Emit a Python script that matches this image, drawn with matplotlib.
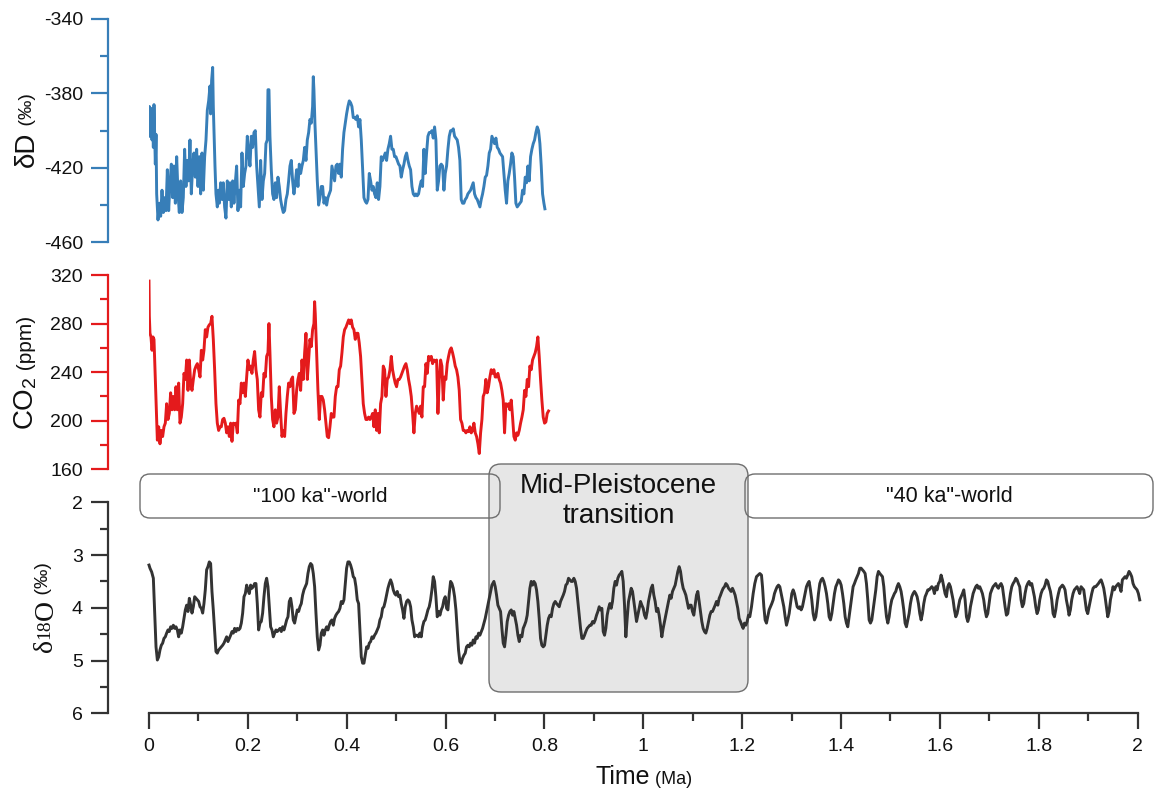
import matplotlib
matplotlib.use("Agg")
import matplotlib.pyplot as plt
from matplotlib.patches import FancyBboxPatch
from matplotlib.transforms import Affine2D
from matplotlib.ticker import MultipleLocator, FixedLocator

W, H, DPI = 1154, 792, 100

# ---------------- data (ages in ka) ----------------
dD_age = [0.0, 0.7, 2.0, 4.0, 6.1, 7.4, 8.8, 10.1, 11.5, 12.8, 14.2, 15.5, 18.2, 20.9, 23.6, 26.3,
          29.0, 31.7, 34.4, 37.1, 39.8, 42.5, 45.2, 47.9, 50.6, 53.3, 56.0, 58.7, 61.3, 64.0, 66.7,
          69.4, 72.1, 74.8, 77.5, 80.2, 82.9, 85.6, 88.3, 91.0, 93.7, 96.4, 99.1, 101.8, 104.5,
          107.2, 109.9, 112.6, 115.3, 118.0, 120.7, 123.4, 124.7, 126.7, 128.8, 130.1, 131.5,
          133.5, 135.5, 138.2, 140.2, 142.3, 145.0, 147.7, 150.3, 153.0, 155.7, 158.4, 161.1,
          163.8, 166.5, 169.2, 171.9, 174.6, 177.3, 180.0, 182.7, 185.4, 188.1, 190.8, 193.5,
          196.2, 198.9, 201.6, 204.3, 207.0, 209.7, 212.4, 215.1, 217.8, 220.5, 223.2, 225.9,
          228.6, 231.3, 234.0, 236.6, 239.3, 240.7, 242.7, 244.7, 247.4, 250.1, 252.8, 255.5,
          258.2, 260.9, 263.6, 266.3, 269.0, 271.7, 274.4, 277.1, 279.8, 282.5, 285.2, 287.9,
          290.6, 293.3, 296.0, 298.7, 301.4, 304.1, 306.8, 309.5, 312.2, 314.9, 317.6, 320.3,
          323.0, 325.6, 328.3, 331.0, 332.4, 333.7, 335.7, 337.8, 340.5, 343.2, 345.9, 348.6,
          351.3, 354.0, 356.7, 359.4, 362.0, 364.7, 367.4, 370.1, 372.8, 375.5, 378.2, 380.9,
          383.6, 386.3, 389.0, 391.7, 394.4, 397.1, 399.8, 402.5, 405.2, 407.9, 410.6, 413.3,
          416.0, 418.7, 421.4, 424.1, 426.8, 429.5, 432.2, 434.9, 437.6, 440.3, 443.0, 445.7,
          448.4, 451.1, 453.7, 456.4, 459.1, 461.8, 464.5, 467.2, 469.9, 472.6, 475.3, 478.0,
          480.7, 483.4, 486.1, 488.8, 491.5, 494.2, 496.9, 499.6, 502.3, 505.0, 507.7, 510.4,
          513.1, 515.8, 518.5, 521.2, 523.9, 526.6, 529.3, 532.0, 534.7, 537.4, 540.0, 542.7,
          545.4, 548.1, 550.8, 553.5, 556.2, 558.9, 561.6, 564.3, 567.0, 569.7, 572.4, 575.1,
          577.8, 580.5, 583.2, 585.9, 588.6, 591.3, 594.0, 596.7, 599.4, 602.1, 604.8, 607.5,
          610.2, 612.9, 615.6, 618.3, 621.0, 623.6, 626.3, 629.0, 631.7, 634.4, 637.1, 639.8,
          642.5, 645.2, 647.9, 650.6, 653.3, 656.0, 658.7, 661.4, 664.1, 666.8, 669.5, 672.2,
          674.9, 677.6, 680.3, 683.0, 685.7, 688.4, 691.1, 693.8, 696.5, 699.2, 701.9, 704.6,
          707.3, 710.0, 712.7, 715.4, 718.0, 720.7, 723.4, 726.1, 728.8, 731.5, 734.2, 736.9,
          739.6, 742.3, 745.0, 747.7, 750.4, 753.1, 755.8, 758.5, 761.2, 763.9, 766.6, 769.3,
          772.0, 774.7, 777.4, 780.1, 782.8, 785.5, 788.2, 790.9, 793.6, 796.3, 799.0, 801.0]
dD_val = [-403, -387, -393, -388, -405, -390, -409, -386, -403, -418, -402, -434, -448, -439, -446,
          -432, -444, -436, -443, -421, -443, -428, -418, -436, -419, -439, -414, -434, -444, -427,
          -444, -436, -410, -430, -416, -427, -405, -434, -419, -412, -425, -410, -430, -414, -434,
          -412, -432, -414, -405, -389, -384, -376, -391, -373, -366, -387, -401, -419, -434, -441,
          -432, -439, -428, -437, -428, -441, -447, -427, -437, -428, -441, -427, -439, -428, -419,
          -443, -432, -441, -412, -430, -423, -419, -403, -412, -419, -403, -409, -401, -400, -419,
          -430, -441, -416, -437, -427, -423, -407, -405, -378, -378, -403, -421, -434, -437, -428,
          -436, -425, -430, -437, -441, -444, -443, -437, -434, -427, -419, -416, -427, -434, -428,
          -421, -430, -418, -423, -419, -416, -409, -416, -405, -401, -394, -396, -387, -371, -378,
          -396, -410, -427, -440, -436, -430, -430, -439, -436, -440, -436, -434, -432, -419, -423,
          -427, -419, -418, -423, -418, -425, -410, -401, -396, -391, -387, -384, -385, -387, -393,
          -393, -394, -392, -398, -394, -405, -421, -436, -438, -439, -437, -423, -427, -432, -430,
          -434, -436, -428, -437, -430, -414, -416, -414, -412, -416, -410, -407, -403, -410, -410,
          -414, -414, -416, -418, -419, -425, -421, -418, -414, -412, -416, -419, -421, -430, -434,
          -435, -434, -435, -434, -430, -427, -430, -410, -423, -412, -403, -401, -401, -400, -404,
          -398, -405, -432, -427, -419, -418, -419, -432, -423, -419, -410, -403, -400, -400, -399,
          -403, -404, -405, -409, -416, -437, -439, -439, -437, -436, -434, -433, -432, -430, -428,
          -434, -436, -437, -439, -441, -437, -434, -430, -425, -424, -419, -412, -410, -403, -405,
          -407, -404, -409, -410, -412, -413, -414, -423, -432, -439, -427, -423, -418, -412, -414,
          -425, -439, -441, -440, -439, -438, -432, -434, -425, -428, -419, -427, -414, -410, -407,
          -405, -401, -398, -400, -407, -419, -434, -439, -442]

co2_age = [0.0, 0.7, 2.0, 4.0, 6.1, 8.1, 10.1, 12.1, 14.2, 16.9, 19.6, 22.2, 24.9, 27.6, 30.3,
           33.0, 35.7, 38.4, 41.1, 43.8, 46.5, 49.2, 51.9, 54.6, 57.3, 60.0, 62.7, 65.4, 68.1,
           70.8, 73.5, 76.2, 78.9, 81.6, 84.3, 87.0, 89.7, 92.4, 95.1, 97.8, 100.5, 103.2, 105.9,
           108.6, 111.2, 113.9, 116.6, 119.3, 122.0, 124.7, 127.4, 130.1, 132.8, 135.5, 138.2,
           140.9, 143.6, 146.3, 149.0, 151.7, 154.4, 157.1, 159.8, 162.5, 165.2, 167.9, 170.6,
           173.3, 176.0, 178.7, 181.4, 184.1, 186.8, 189.5, 192.2, 194.9, 197.6, 200.2, 202.9,
           205.6, 208.3, 211.0, 213.7, 216.4, 219.1, 221.8, 224.5, 227.2, 229.9, 232.6, 235.3,
           238.0, 240.7, 242.7, 244.7, 247.4, 250.1, 252.8, 255.5, 258.2, 260.9, 263.6, 266.3,
           269.0, 271.7, 274.4, 277.1, 279.8, 282.5, 285.2, 287.9, 290.6, 293.3, 296.0, 298.7,
           301.4, 304.1, 306.8, 309.5, 312.2, 314.9, 317.6, 320.3, 323.0, 325.6, 328.3, 331.0,
           333.7, 335.1, 336.4, 339.1, 341.8, 344.5, 347.2, 349.9, 352.6, 355.3, 358.0, 360.7,
           363.4, 366.1, 368.8, 371.5, 374.2, 376.9, 379.6, 382.3, 385.0, 387.7, 390.4, 393.1,
           395.8, 398.5, 401.2, 403.9, 406.5, 409.2, 411.9, 414.6, 417.3, 420.0, 422.7, 425.4,
           428.1, 430.8, 433.5, 436.2, 438.9, 441.6, 444.3, 447.0, 449.7, 452.4, 455.1, 457.8,
           460.5, 463.2, 465.9, 468.6, 471.3, 474.0, 476.7, 479.4, 482.1, 484.8, 487.5, 490.2,
           492.8, 495.5, 498.2, 500.9, 503.6, 506.3, 509.0, 511.7, 514.4, 517.1, 519.8, 522.5,
           525.2, 527.9, 530.6, 533.3, 536.0, 538.7, 541.4, 544.1, 546.8, 549.5, 552.2, 554.9,
           557.6, 560.3, 563.0, 565.7, 568.4, 571.1, 573.8, 576.5, 579.2, 581.9, 584.6, 587.3,
           590.0, 592.6, 595.3, 598.0, 600.7, 603.4, 606.1, 608.8, 611.5, 614.2, 616.9, 619.6,
           622.3, 625.0, 627.7, 630.4, 633.1, 635.8, 638.5, 641.2, 643.9, 646.6, 649.3, 652.0,
           654.7, 657.4, 660.1, 662.8, 665.5, 668.2, 670.9, 673.6, 676.2, 678.9, 681.6, 684.3,
           687.0, 689.7, 692.4, 695.1, 697.8, 700.5, 703.2, 705.9, 708.6, 711.3, 714.0, 716.7,
           719.4, 722.1, 724.8, 727.5, 730.2, 732.9, 735.6, 738.3, 741.0, 743.7, 746.4, 749.1,
           751.8, 754.5, 757.2, 759.9, 762.6, 765.3, 768.0, 770.6, 773.3, 776.0, 778.7, 781.4,
           784.1, 786.8, 789.5, 792.2, 794.9, 797.6, 800.3, 803.0, 805.7, 808.4]
co2_val = [315, 286, 272, 269, 258, 269, 267, 242, 214, 184, 195, 181, 192, 187, 195, 198, 214,
           201, 206, 223, 209, 220, 209, 228, 209, 231, 198, 203, 214, 239, 234, 250, 225, 250,
           231, 225, 234, 242, 245, 247, 242, 236, 258, 250, 258, 275, 269, 277, 279, 280, 286,
           267, 242, 214, 198, 192, 195, 195, 201, 202, 198, 190, 195, 187, 198, 183, 198, 197,
           198, 190, 217, 214, 231, 223, 231, 220, 236, 250, 242, 245, 239, 250, 257, 242, 234,
           209, 203, 223, 220, 239, 236, 253, 256, 280, 256, 220, 201, 195, 209, 198, 203, 228,
           206, 187, 192, 187, 206, 220, 231, 228, 234, 236, 206, 209, 225, 234, 239, 225, 250,
           234, 256, 272, 234, 250, 267, 261, 275, 280, 298, 288, 256, 225, 201, 220, 220, 217,
           209, 198, 187, 186, 195, 206, 203, 203, 220, 228, 228, 242, 245, 256, 269, 275, 277,
           280, 283, 280, 283, 277, 275, 267, 272, 272, 264, 253, 234, 214, 206, 201, 201, 203,
           201, 203, 206, 195, 209, 192, 206, 190, 214, 220, 245, 242, 220, 234, 236, 242, 253,
           242, 236, 231, 228, 234, 234, 236, 239, 242, 245, 247, 242, 234, 228, 220, 206, 190,
           206, 212, 209, 206, 212, 203, 228, 228, 247, 239, 253, 250, 253, 247, 250, 249, 250,
           206, 234, 250, 245, 217, 236, 234, 247, 253, 258, 260, 256, 251, 245, 242, 236, 225,
           201, 198, 192, 192, 190, 192, 191, 195, 190, 192, 198, 190, 187, 181, 173, 190, 201,
           220, 223, 234, 223, 228, 236, 242, 239, 242, 236, 236, 239, 234, 231, 225, 217, 190,
           214, 212, 214, 209, 217, 203, 187, 184, 190, 188, 192, 198, 203, 209, 225, 220, 234,
           228, 245, 242, 250, 253, 256, 261, 269, 253, 234, 217, 203, 198, 199, 206, 208]

d18O_age = [0.0, 2.0, 5.4, 8.8, 11.5, 14.2, 16.9, 19.6, 22.2, 24.9, 27.6, 30.3, 33.0, 35.7, 38.4,
            41.1, 43.8, 46.5, 49.2, 51.9, 54.6, 57.3, 60.0, 62.7, 65.4, 68.1, 70.8, 73.5, 76.2,
            78.9, 81.6, 84.3, 87.0, 89.7, 92.4, 95.1, 97.8, 100.5, 103.2, 105.9, 108.6, 111.2,
            113.9, 116.6, 119.3, 122.0, 124.7, 127.4, 130.1, 132.8, 135.5, 138.2, 140.9, 143.6,
            146.3, 149.0, 151.7, 154.4, 157.1, 159.8, 162.5, 165.2, 167.9, 170.6, 173.3, 176.0,
            178.7, 181.4, 184.1, 186.8, 189.5, 192.2, 194.9, 197.6, 200.2, 202.9, 205.6, 208.3,
            211.0, 213.7, 216.4, 219.1, 221.8, 224.5, 227.2, 229.9, 232.6, 235.3, 238.0, 240.7,
            243.4, 246.1, 248.8, 251.5, 254.2, 256.9, 259.6, 262.3, 265.0, 267.7, 270.4, 273.1,
            275.8, 278.5, 281.2, 283.9, 286.6, 289.2, 291.9, 294.6, 297.3, 300.0, 302.7, 305.4,
            308.1, 310.8, 313.5, 316.2, 318.9, 321.6, 324.3, 327.0, 329.7, 332.4, 335.1, 337.8,
            340.5, 343.2, 345.9, 348.6, 351.3, 354.0, 356.7, 359.4, 362.0, 364.7, 367.4, 370.1,
            372.8, 375.5, 378.2, 380.9, 383.6, 386.3, 389.0, 391.7, 394.4, 397.1, 399.8, 402.5,
            405.2, 407.9, 410.6, 413.3, 416.0, 418.7, 421.4, 424.1, 426.8, 429.5, 432.2, 434.9,
            437.6, 440.3, 443.0, 445.7, 448.4, 451.1, 453.7, 456.4, 459.1, 461.8, 464.5, 467.2,
            469.9, 472.6, 475.3, 478.0, 480.7, 483.4, 486.1, 488.8, 491.5, 494.2, 496.9, 499.6,
            502.3, 505.0, 507.7, 510.4, 513.1, 515.8, 518.5, 521.2, 523.9, 526.6, 529.3, 532.0,
            534.7, 537.4, 540.0, 542.7, 545.4, 548.1, 550.8, 553.5, 556.2, 558.9, 561.6, 564.3,
            567.0, 569.7, 572.4, 575.1, 577.8, 580.5, 583.2, 585.9, 588.6, 591.3, 594.0, 596.7,
            599.4, 602.1, 604.8, 607.5, 610.2, 612.9, 615.6, 618.3, 621.0, 623.6, 626.3, 629.0,
            631.7, 634.4, 637.1, 639.8, 642.5, 645.2, 647.9, 650.6, 653.3, 656.0, 658.7, 661.4,
            664.1, 666.8, 669.5, 674.9, 680.3, 685.7, 689.7, 693.8, 697.8, 700.5, 703.2, 705.9,
            708.6, 711.3, 714.0, 716.7, 719.4, 722.1, 724.8, 727.5, 730.2, 732.9, 735.6, 738.3,
            741.0, 743.7, 746.4, 749.1, 751.8, 754.5, 757.1, 759.8, 762.5, 765.2, 767.9, 770.6,
            773.3, 776.0, 778.7, 781.4, 784.1, 786.8, 789.5, 792.2, 794.9, 797.6, 800.3, 803.0,
            805.7, 808.4, 811.1, 813.8, 816.5, 819.2, 821.9, 824.6, 827.3, 830.0, 832.7, 835.4,
            838.1, 840.7, 843.4, 846.1, 848.8, 851.5, 854.2, 856.9, 859.6, 862.3, 865.0, 867.7,
            870.4, 873.1, 875.8, 878.5, 881.2, 883.9, 886.6, 889.3, 892.0, 894.7, 897.4, 900.1,
            902.8, 905.5, 908.2, 910.9, 913.6, 916.3, 919.0, 921.7, 924.3, 927.0, 929.7, 932.4,
            935.1, 937.8, 940.5, 943.2, 945.9, 948.6, 951.3, 954.0, 956.7, 959.4, 962.1, 964.8,
            967.5, 970.2, 972.9, 975.6, 978.3, 981.0, 983.7, 986.4, 989.1, 991.8, 994.5, 997.2,
            999.9, 1002.6, 1005.3, 1008.0, 1010.6, 1013.3, 1016.0, 1018.7, 1021.4, 1024.1,
            1026.8, 1029.5, 1032.2, 1034.9, 1037.6, 1040.3, 1043.0, 1045.7, 1048.4, 1051.1,
            1053.8, 1056.5, 1059.2, 1061.9, 1064.6, 1067.3, 1070.0, 1072.7, 1075.4, 1078.1,
            1080.8, 1083.5, 1086.2, 1088.9, 1091.6, 1094.2, 1096.9, 1099.6, 1102.3, 1105.0,
            1107.7, 1110.4, 1113.1, 1115.8, 1118.5, 1121.2, 1123.9, 1126.6, 1129.3, 1132.0,
            1134.7, 1137.4, 1140.1, 1142.8, 1145.5, 1148.2, 1150.9, 1153.6, 1156.3, 1159.0,
            1161.7, 1164.4, 1167.1, 1169.8, 1172.5, 1175.2, 1177.8, 1180.5, 1183.2, 1185.9,
            1188.6, 1191.3, 1194.0, 1196.7, 1199.4, 1202.1, 1204.8, 1207.5, 1210.2, 1212.9,
            1215.6, 1219.0, 1222.4, 1225.7, 1229.1, 1232.5, 1235.9, 1239.2, 1241.3, 1244.0,
            1246.6, 1249.3, 1252.0, 1254.7, 1257.4, 1260.1, 1262.8, 1265.5, 1268.2, 1270.9,
            1273.6, 1276.3, 1279.0, 1281.7, 1284.4, 1287.1, 1289.8, 1292.5, 1295.2, 1297.9,
            1300.6, 1303.3, 1306.0, 1308.7, 1311.4, 1314.1, 1316.8, 1319.5, 1322.1, 1324.8,
            1327.5, 1330.2, 1332.9, 1335.6, 1338.3, 1341.0, 1343.7, 1346.4, 1349.1, 1351.8,
            1354.5, 1357.2, 1359.9, 1362.6, 1365.3, 1368.0, 1370.7, 1373.4, 1376.1, 1378.8,
            1381.5, 1384.2, 1386.9, 1389.6, 1392.3, 1395.0, 1397.7, 1400.4, 1403.1, 1405.8,
            1408.5, 1411.1, 1413.8, 1416.5, 1419.2, 1421.9, 1424.6, 1427.3, 1430.0, 1432.7,
            1435.4, 1438.1, 1440.8, 1443.5, 1446.2, 1448.9, 1451.6, 1454.3, 1457.0, 1459.7,
            1462.4, 1465.1, 1467.8, 1470.5, 1473.2, 1475.9, 1478.6, 1481.3, 1484.0, 1486.7,
            1489.4, 1492.1, 1494.8, 1497.5, 1500.1, 1502.8, 1505.5, 1508.2, 1510.9, 1513.6,
            1516.3, 1519.0, 1521.7, 1524.4, 1527.1, 1529.8, 1532.5, 1535.2, 1537.9, 1540.6,
            1543.3, 1546.0, 1548.7, 1551.4, 1554.1, 1556.8, 1559.5, 1562.2, 1564.9, 1567.6,
            1570.3, 1573.0, 1575.7, 1578.4, 1581.1, 1583.8, 1586.5, 1589.1, 1591.8, 1594.5,
            1597.2, 1599.9, 1602.6, 1605.3, 1608.0, 1610.7, 1613.4, 1616.1, 1618.8, 1621.5,
            1624.2, 1626.9, 1629.6, 1632.3, 1635.0, 1637.7, 1640.4, 1643.1, 1645.8, 1648.5,
            1651.2, 1653.9, 1656.6, 1659.3, 1662.0, 1664.7, 1667.4, 1670.1, 1672.8, 1675.4,
            1678.1, 1680.8, 1683.5, 1686.2, 1688.9, 1691.6, 1694.3, 1697.0, 1699.7, 1702.4,
            1705.1, 1707.8, 1710.5, 1713.2, 1715.9, 1718.6, 1721.3, 1724.0, 1726.7, 1729.4,
            1732.1, 1734.8, 1737.5, 1740.2, 1742.9, 1745.6, 1748.3, 1751.0, 1753.7, 1756.4,
            1759.0, 1761.7, 1764.4, 1767.1, 1769.8, 1772.5, 1775.2, 1777.9, 1780.6, 1783.3,
            1786.0, 1788.7, 1791.4, 1794.1, 1796.8, 1799.5, 1802.2, 1804.9, 1807.6, 1810.3,
            1813.0, 1815.7, 1818.4, 1821.1, 1823.8, 1826.5, 1829.2, 1831.9, 1834.6, 1837.3,
            1840.0, 1842.7, 1845.4, 1848.1, 1850.7, 1853.4, 1856.1, 1858.8, 1861.5, 1864.2,
            1866.9, 1869.6, 1872.3, 1875.0, 1877.7, 1880.4, 1883.1, 1885.8, 1888.5, 1891.2,
            1893.9, 1896.6, 1899.3, 1902.0, 1904.7, 1907.4, 1910.1, 1912.8, 1915.5, 1918.2,
            1920.9, 1923.6, 1926.3, 1929.0, 1931.7, 1934.4, 1937.1, 1939.8, 1942.5, 1945.2,
            1947.9, 1950.5, 1953.2, 1955.9, 1958.6, 1961.3, 1964.0, 1966.7, 1969.4, 1972.1,
            1974.8, 1977.5, 1980.2, 1982.9, 1985.6, 1988.3, 1991.0, 1993.7, 1996.4, 1999.1,
            2001.8, 2004.5]
d18O_val = [3.19, 3.25, 3.32, 3.44, 4.10, 4.74, 4.99, 4.93, 4.80, 4.71, 4.67, 4.58, 4.55, 4.48,
            4.42, 4.45, 4.36, 4.39, 4.33, 4.39, 4.36, 4.42, 4.55, 4.42, 4.48, 4.36, 4.20, 4.04,
            3.95, 4.07, 3.82, 3.95, 4.10, 3.98, 3.79, 3.82, 3.85, 3.88, 3.98, 4.01, 4.10, 3.92,
            3.66, 3.28, 3.22, 3.13, 3.16, 3.69, 4.04, 4.42, 4.83, 4.86, 4.80, 4.77, 4.74, 4.71,
            4.67, 4.61, 4.55, 4.64, 4.58, 4.52, 4.45, 4.48, 4.39, 4.45, 4.39, 4.42, 4.39, 4.29,
            4.10, 3.79, 3.73, 3.57, 3.66, 3.73, 3.57, 3.63, 3.60, 3.54, 3.54, 3.92, 4.42, 4.29,
            4.26, 4.10, 3.79, 3.54, 3.44, 3.60, 3.98, 4.36, 4.42, 4.55, 4.48, 4.42, 4.45, 4.42,
            4.39, 4.45, 4.36, 4.42, 4.33, 4.23, 4.17, 3.88, 3.82, 3.98, 4.23, 4.29, 4.17, 4.04,
            4.07, 3.98, 3.92, 3.76, 3.66, 3.60, 3.54, 3.35, 3.22, 3.16, 3.19, 3.35, 3.60, 4.10,
            4.55, 4.80, 4.71, 4.48, 4.42, 4.52, 4.42, 4.36, 4.42, 4.33, 4.26, 4.23, 4.33, 4.20,
            4.14, 4.10, 4.07, 4.01, 3.88, 3.92, 3.85, 3.54, 3.25, 3.13, 3.13, 3.19, 3.28, 3.41,
            3.44, 3.60, 3.85, 3.92, 4.42, 4.93, 5.05, 5.05, 4.90, 4.74, 4.77, 4.67, 4.64, 4.55,
            4.58, 4.52, 4.48, 4.42, 4.36, 4.23, 4.17, 4.01, 3.98, 3.88, 3.76, 3.63, 3.54, 3.47,
            3.54, 3.66, 3.73, 3.76, 3.69, 3.79, 3.76, 3.92, 4.04, 4.20, 3.98, 3.88, 3.85, 3.88,
            3.98, 4.23, 4.36, 4.55, 4.52, 4.52, 4.55, 4.48, 4.55, 4.36, 4.26, 4.23, 4.14, 4.04,
            3.98, 3.85, 3.66, 3.41, 3.50, 3.79, 4.17, 4.07, 4.14, 4.04, 3.98, 3.85, 3.79, 4.01,
            4.04, 3.73, 3.50, 3.54, 3.63, 3.79, 4.04, 4.42, 4.80, 5.02, 5.05, 4.96, 4.90, 4.86,
            4.74, 4.71, 4.74, 4.67, 4.71, 4.61, 4.67, 4.55, 4.58, 4.48, 4.52, 4.39, 4.20, 3.95,
            3.76, 3.57, 3.50, 3.60, 3.76, 3.95, 4.01, 4.07, 4.39, 4.67, 4.74, 4.52, 4.26, 4.14,
            4.07, 4.04, 4.14, 4.07, 4.20, 4.33, 4.52, 4.64, 4.52, 4.55, 4.39, 4.33, 4.26, 4.14,
            3.88, 3.63, 3.50, 3.57, 3.50, 3.54, 3.66, 3.88, 4.20, 4.58, 4.71, 4.74, 4.71, 4.52,
            4.33, 4.20, 4.14, 4.17, 4.01, 3.92, 3.88, 3.92, 3.95, 3.98, 3.88, 3.82, 3.76, 3.69,
            3.57, 3.54, 3.44, 3.47, 3.50, 3.50, 3.44, 3.50, 3.63, 3.88, 4.14, 4.39, 4.58, 4.58,
            4.52, 4.45, 4.39, 4.36, 4.33, 4.33, 4.26, 4.29, 4.23, 4.14, 4.07, 3.98, 4.04, 4.01,
            4.45, 4.52, 4.39, 4.14, 4.01, 3.92, 4.01, 3.88, 3.63, 3.50, 3.57, 3.44, 3.38, 3.35,
            3.31, 3.50, 3.95, 4.55, 4.20, 3.88, 3.76, 3.63, 3.69, 3.88, 4.07, 4.26, 4.14, 4.01,
            3.88, 3.95, 4.01, 4.14, 4.20, 4.07, 3.88, 3.76, 3.63, 3.57, 3.76, 3.88, 4.07, 4.01,
            4.14, 4.33, 4.55, 4.39, 4.26, 4.14, 4.01, 3.88, 3.76, 3.82, 3.69, 3.63, 3.57, 3.44,
            3.31, 3.22, 3.31, 3.50, 3.63, 3.69, 3.76, 3.88, 4.01, 3.95, 3.95, 4.07, 4.14, 3.95,
            3.76, 3.69, 3.88, 4.07, 4.26, 4.39, 4.45, 4.48, 4.39, 4.26, 4.14, 4.07, 4.07, 4.01,
            3.95, 3.88, 3.95, 3.82, 3.76, 3.69, 3.63, 3.60, 3.54, 3.57, 3.63, 3.66, 3.69, 3.63,
            3.69, 3.76, 3.88, 4.01, 4.20, 4.26, 4.33, 4.39, 4.29, 4.33, 4.26, 4.14,
            4.17, 3.98, 3.73, 3.54, 3.41, 3.38, 3.35, 3.38, 3.60, 3.98, 4.23, 4.29, 4.17, 4.04,
            3.98, 3.92, 3.85, 3.73, 3.66, 3.60, 3.57, 3.60, 3.73, 3.85, 3.98, 4.17, 4.33, 4.23,
            4.11, 3.92, 3.73, 3.66, 3.73, 3.85, 3.98, 4.01, 3.98, 4.04, 3.98, 3.85, 3.73, 3.60,
            3.54, 3.50, 3.66, 3.85, 4.11, 4.23, 4.17, 3.98, 3.73, 3.54, 3.47, 3.44, 3.50, 3.60,
            3.73, 3.92, 4.17, 4.23, 4.11, 3.92, 3.73, 3.60, 3.54, 3.47, 3.50, 3.57, 3.73, 3.92,
            4.17, 4.29, 4.36, 4.17, 3.98, 3.79, 3.60, 3.54, 3.47, 3.41, 3.35, 3.25, 3.25, 3.28,
            3.31, 3.35, 3.54, 3.85, 4.23, 4.29, 4.23, 4.04, 3.85, 3.66, 3.41, 3.31, 3.35, 3.38,
            3.41, 3.60, 3.92, 4.17, 4.29, 4.17, 3.98, 3.85, 3.79, 3.73, 3.69, 3.60, 3.54, 3.60,
            3.69, 3.85, 4.04, 4.29, 4.36, 4.23, 4.11, 3.92, 3.79, 3.73, 3.69, 3.73, 3.79, 3.92,
            4.11, 4.23, 4.11, 3.92, 3.79, 3.73, 3.66, 3.66, 3.63, 3.60, 3.63, 3.73, 3.60, 3.66,
            3.54, 3.50, 3.38, 3.47, 3.60, 3.73, 3.79, 3.60, 3.54, 3.60, 3.73, 3.85, 4.04, 4.17,
            4.11, 3.98, 3.85, 3.79, 3.73, 3.66, 3.85, 4.17, 4.26, 4.17, 3.98, 3.85, 3.73, 3.66,
            3.60, 3.57, 3.63, 3.60, 3.66, 3.73, 3.85, 4.04, 4.17, 4.11, 3.92, 3.73, 3.66, 3.60,
            3.57, 3.54, 3.60, 3.63, 3.57, 3.54, 3.60, 3.79, 3.98, 4.14, 4.11, 3.92, 3.73, 3.60,
            3.54, 3.50, 3.44, 3.47, 3.54, 3.60, 3.85, 3.98, 3.92, 3.73, 3.60, 3.54, 3.50, 3.57,
            3.54, 3.66, 3.79, 3.98, 4.11, 4.04, 3.85, 3.73, 3.66, 3.63, 3.57, 3.47, 3.50, 3.60,
            3.69, 3.85, 4.11, 4.17, 4.04, 3.85, 3.73, 3.63, 3.60, 3.57, 3.60, 3.66, 3.85, 3.98,
            4.14, 4.04, 3.85, 3.73, 3.66, 3.63, 3.60, 3.66, 3.73, 3.60, 3.63, 3.66, 3.85, 4.04,
            4.11, 3.98, 3.85, 3.73, 3.63, 3.60, 3.60, 3.57, 3.54, 3.50, 3.47, 3.54, 3.63, 3.79,
            3.98, 4.17, 4.07, 3.85, 3.73, 3.60, 3.66, 3.60, 3.57, 3.54, 3.60, 3.69, 3.47, 3.44,
            3.41, 3.44, 3.38, 3.31, 3.35, 3.41, 3.54, 3.60, 3.63, 3.66, 3.73, 3.85]

dD_ticks = [-460, -420, -380, -340]
co2_ticks = [160, 200, 240, 280, 320]
d18O_ticks = [2, 3, 4, 5, 6]
x_ticks = [0, 0.2, 0.4, 0.6, 0.8, 1.0, 1.2, 1.4, 1.6, 1.8, 2.0]
x_tick_labels = ["0", "0.2", "0.4", "0.6", "0.8", "1", "1.2", "1.4", "1.6", "1.8", "2"]

# ---------------- style ----------------
BLUE = "#377eb8"
RED = "#e41a1c"
DARK = "#333333"
SANS = ["Liberation Sans", "DejaVu Sans"]
NARROW = ["Liberation Sans Narrow", "Liberation Sans", "DejaVu Sans"]
SERIF = ["Liberation Serif", "DejaVu Serif"]

plt.rcParams["font.family"] = SANS
plt.rcParams["font.size"] = 14
plt.rcParams["axes.unicode_minus"] = False

fig = plt.figure(figsize=(W / DPI, H / DPI), dpi=DPI)
fig.patch.set_facecolor("white")

# transform in image pixels (origin top-left)
pix = Affine2D().scale(1.0 / W, -1.0 / H).translate(0, 1) + fig.transFigure

X0, X1 = 149, 1137.5


def panel(top, bottom):
    return fig.add_axes([X0 / W, 1 - bottom / H, (X1 - X0) / W, (bottom - top) / H])


def style_y(ax, color, lo, hi, ticks, minor):
    ax.set_xlim(0, 2)
    ax.set_ylim(lo, hi)
    ax.set_facecolor("none")
    for s in ("top", "right", "bottom"):
        ax.spines[s].set_visible(False)
    sp = ax.spines["left"]
    sp.set_position(("outward", 41 * 72 / DPI))
    sp.set_color(color)
    sp.set_linewidth(1.6)
    ax.yaxis.set_major_locator(FixedLocator(ticks))
    ax.yaxis.set_minor_locator(MultipleLocator(minor))
    ax.tick_params(axis="y", which="major", length=12, width=1.6, color=color,
                   labelsize=14, pad=6, labelcolor="#111111")
    ax.tick_params(axis="y", which="minor", length=6, width=1.6, color=color)
    ax.tick_params(axis="x", which="both", bottom=False, labelbottom=False)


ax1 = panel(19, 242.3)
ax2 = panel(275, 469.3)
ax3 = panel(502.3, 713.3)

style_y(ax1, BLUE, -460, -340, dD_ticks, 20)
style_y(ax2, RED, 160, 320, co2_ticks, 20)
style_y(ax3, DARK, 6, 2, d18O_ticks, 0.5)

ax1.plot([a / 1000 for a in dD_age], dD_val, color=BLUE, lw=2.1, solid_joinstyle="round")
ax2.plot([a / 1000 for a in co2_age], co2_val, color=RED, lw=2.1, solid_joinstyle="round")
ax3.plot([a / 1000 for a in d18O_age], d18O_val, color=DARK, lw=2.1, solid_joinstyle="round",
         zorder=3, clip_on=False)

# time axis
sb = ax3.spines["bottom"]
sb.set_visible(True)
sb.set_bounds(0, 2)
sb.set_color(DARK)
sb.set_linewidth(1.6)
ax3.set_xticks(x_ticks)
ax3.set_xticklabels(x_tick_labels)
ax3.xaxis.set_minor_locator(MultipleLocator(0.1))
ax3.tick_params(axis="x", which="major", bottom=True, labelbottom=True, length=11.5, width=1.6,
                color=DARK, labelsize=14, pad=6, labelcolor="#111111")
ax3.tick_params(axis="x", which="minor", bottom=True, length=5.5, width=1.6, color=DARK)

# ---------------- regime boxes ----------------
ax3.add_patch(FancyBboxPatch((489, 464), 259, 228, boxstyle="round,pad=0,rounding_size=12",
                             transform=pix, facecolor="#e6e6e6", edgecolor="#6e6e6e",
                             lw=1.0, clip_on=False, zorder=1))
for x0, x1 in ((140, 500), (745, 1153)):
    ax3.add_patch(FancyBboxPatch((x0, 474), x1 - x0, 44, boxstyle="round,pad=0,rounding_size=10",
                                 transform=pix, facecolor="none", edgecolor="#6e6e6e",
                                 lw=1.0, clip_on=False, zorder=4))

fig.text(320 / W, 1 - 497 / H, '"100 ka"-world', ha="center", va="center", fontsize=15,
         color="#111111")
fig.text(949 / W, 1 - 497 / H, '"40 ka"-world', ha="center", va="center", fontsize=15.5,
         color="#111111")
fig.text(618.5 / W, 1 - 501 / H, "Mid-Pleistocene\ntransition", ha="center", va="center",
         fontsize=20, color="#111111", linespacing=1.22)

# ---------------- axis titles built from pieces of different size ----------------
renderer = fig.canvas.get_renderer()


def vertical_label(parts, xc, yc):
    texts = []
    for s, size, fam, dx in parts:
        t = fig.text(0, 0, s, rotation=90, fontsize=size, family=fam, ha="center",
                     va="bottom", color="#111111")
        texts.append((t, dx))
    heights = [t.get_window_extent(renderer).height for t, _ in texts]
    y = (H - yc) - sum(heights) / 2.0
    for (t, dx), h in zip(texts, heights):
        t.set_position(((xc + dx) / W, y / H))
        y += h


def horizontal_label(parts, xc, ybase):
    texts = []
    for s, size, fam in parts:
        t = fig.text(0, 0, s, fontsize=size, family=fam, ha="left", va="baseline",
                     color="#111111")
        texts.append(t)
    widths = [t.get_window_extent(renderer).width for t in texts]
    x = xc - sum(widths) / 2.0
    for t, w in zip(texts, widths):
        t.set_position((x / W, 1 - ybase / H))
        x += w


vertical_label([("\u03b4D", 20, NARROW, 0), (" (\u2030)", 14, NARROW, 1)], 27, 130)
vertical_label([("CO", 20, NARROW, 0), ("2", 14, NARROW, 5), (" (ppm)", 15, NARROW, 1)], 25, 372)
vertical_label([("\u03b4", 20, SERIF, 0), ("18", 14, SERIF, -1), ("O", 20, SERIF, 0),
                (" (\u2030)", 14, NARROW, -3)], 46, 607)
horizontal_label([("Time", 18, NARROW), (" (Ma)", 13, NARROW)], 644, 784)

fig.savefig("out.png", dpi=DPI, facecolor="white")
